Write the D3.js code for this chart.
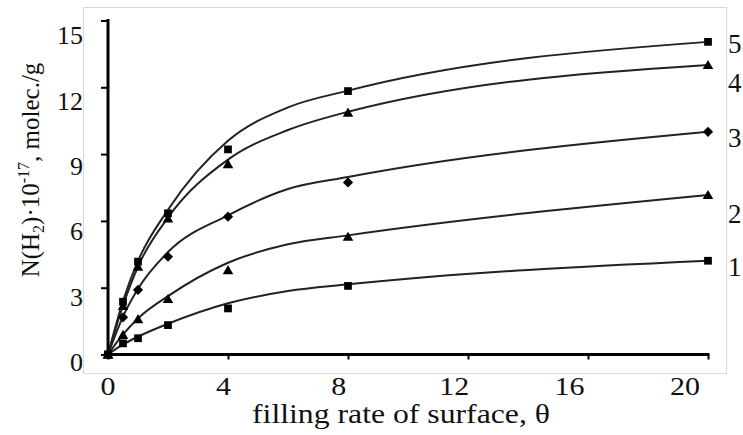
<!DOCTYPE html>
<html>
<head>
<meta charset="utf-8">
<script src="https://cdn.jsdelivr.net/npm/d3@7/dist/d3.min.js"></script>
<style>
    html, body { margin: 0; padding: 0; background: #fff; }
    svg text { font-family: "Liberation Serif", "Times New Roman", serif; fill: #111; }
</style>
</head>
<body>
<svg id="chart" width="743" height="435"></svg>
<script>
// filling rate of surface (theta)
var theta = [0, 0.5, 1, 2, 4, 8, 20];

// measured points, N(H2)*1e-17 molec./g
var s1 = [0, 0.50, 0.73, 1.32, 2.07, 3.08, 4.21];
var s2 = [0, 0.88, 1.59, 2.49, 3.79, 5.29, 7.16];
var s3 = [0, 1.67, 2.90, 4.39, 6.19, 7.73, 10.0];
var s4 = [0, 2.18, 3.94, 6.11, 8.55, 10.86, 13.0];
var s5 = [0, 2.37, 4.17, 6.34, 9.21, 11.83, 14.04];

// smoothed curves
var fitTheta = [0, 0.5, 1, 2, 4, 6, 8, 20];
var fit1 = [0, 0.45, 0.80, 1.38, 2.30, 2.85, 3.15, 4.21];
var fit2 = [0, 0.90, 1.62, 2.62, 4.12, 4.95, 5.35, 7.16];
var fit3 = [0, 1.70, 2.95, 4.60, 6.25, 7.43, 7.97, 10.0];
var fit4 = [0, 2.20, 3.95, 6.15, 8.75, 10.08, 10.90, 13.0];
var fit5 = [0, 2.40, 4.20, 6.50, 9.60, 11.10, 11.85, 14.04];

var seriesNames = ['1', '2', '3', '4', '5'];
var markers = ['square', 'triangle', 'diamond', 'triangle', 'square'];

var xTicks = [0, 4, 8, 12, 16, 20];
var yTicks = [0, 3, 6, 9, 12, 15];

// label nudges (px) for the series numbers on the right
var nameNudge = [6, 18, 6, 18, 2];

var svg = d3.select('#chart');

var x = d3.scaleLinear().domain([0, 20]).range([108, 708]);
var y = d3.scaleLinear().domain([0, 15]).range([354.5, 20.5]);
// tick labels sit a little off the tick marks in the original
var xLab = d3.scaleLinear().domain([0, 20]).range([108, 685]);
var yLab = d3.scaleLinear().domain([0, 15]).range([362, 35]);

svg.append('rect')
    .attr('x', 83.5).attr('y', 7.5)
    .attr('width', 643).attr('height', 366)
    .attr('fill', 'none')
    .attr('stroke', '#d9d9d9')
    .attr('stroke-width', 1);

var points = [s1, s2, s3, s4, s5];
var fits = [fit1, fit2, fit3, fit4, fit5];

var line = d3.line()
    .x(function(d) { return x(d[0]); })
    .y(function(d) { return y(d[1]); })
    .curve(d3.curveMonotoneX);

fits.forEach(function(f) {
    svg.append('path')
        .datum(fitTheta.map(function(t, i) { return [t, f[i]]; }))
        .attr('d', line)
        .attr('fill', 'none')
        .attr('stroke', '#222')
        .attr('stroke-width', 2);
});

function symbolFor(kind) {
    if (kind === 'triangle') return d3.symbol().type(d3.symbolTriangle).size(48);
    if (kind === 'diamond') return d3.symbol().type(d3.symbolSquare).size(52);
    return d3.symbol().type(d3.symbolSquare).size(60);
}

points.forEach(function(s, k) {
    var kind = markers[k];
    svg.append('g').selectAll('path')
        .data(theta.map(function(t, i) { return [t, s[i]]; }))
        .enter().append('path')
        .attr('d', symbolFor(kind)())
        .attr('transform', function(d) {
            var tr = 'translate(' + x(d[0]) + ',' + y(d[1]) + ')';
            if (kind === 'diamond') tr += ' rotate(45)';
            if (kind === 'triangle') tr += ' translate(0,1)';
            return tr;
        })
        .attr('fill', '#000');
});

// axes
var xAxis = svg.append('g')
    .attr('transform', 'translate(0,354.5)')
    .call(d3.axisBottom(x).tickValues(xTicks).tickSize(5).tickSizeOuter(0).tickFormat(''));
var yAxis = svg.append('g')
    .attr('transform', 'translate(108,0)')
    .call(d3.axisLeft(y).tickValues(yTicks).tickSize(7).tickSizeOuter(0).tickFormat(''));
[xAxis, yAxis].forEach(function(a) {
    a.select('.domain').attr('stroke', '#000').attr('stroke-width', 3);
    a.selectAll('.tick line').attr('stroke', '#000').attr('stroke-width', 2);
});
xAxis.select('.domain').attr('d', 'M106.5,0H709.5');
yAxis.select('.domain').attr('d', 'M0,356V19');

svg.append('g').selectAll('text')
    .data(xTicks)
    .enter().append('text')
    .attr('x', function(d) { return xLab(d); })
    .attr('y', 395)
    .attr('text-anchor', 'middle')
    .attr('font-size', 26)
    .attr('textLength', function(d) { return String(d).length * 15; })
    .attr('lengthAdjust', 'spacingAndGlyphs')
    .text(function(d) { return d; });

svg.append('g').selectAll('text')
    .data(yTicks)
    .enter().append('text')
    .attr('x', 83)
    .attr('y', function(d) { return yLab(d); })
    .attr('dy', '0.35em')
    .attr('text-anchor', 'end')
    .attr('font-size', 26)
    .text(function(d) { return d; });

// series numbers on the right
svg.append('g').selectAll('text')
    .data(seriesNames)
    .enter().append('text')
    .attr('x', 728)
    .attr('y', function(d, i) { var s = points[i]; return y(s[s.length - 1]) + nameNudge[i]; })
    .attr('dy', '0.35em')
    .attr('font-size', 27)
    .text(function(d) { return d; });

// axis titles
svg.append('text')
    .attr('x', 401)
    .attr('y', 423)
    .attr('text-anchor', 'middle')
    .attr('font-size', 28)
    .attr('textLength', 298)
    .attr('lengthAdjust', 'spacingAndGlyphs')
    .text('filling rate of surface, θ');

var yt = svg.append('text')
    .attr('transform', 'translate(39,170) rotate(-90)')
    .attr('text-anchor', 'middle')
    .attr('font-size', 25);
yt.append('tspan').text('N(H');
yt.append('tspan').attr('dy', 5).attr('font-size', 16).text('2');
yt.append('tspan').attr('dy', -5).text(')·10');
yt.append('tspan').attr('dy', -10).attr('font-size', 16).text('-17');
yt.append('tspan').attr('dy', 10).text(', molec./g');
</script>
</body>
</html>
